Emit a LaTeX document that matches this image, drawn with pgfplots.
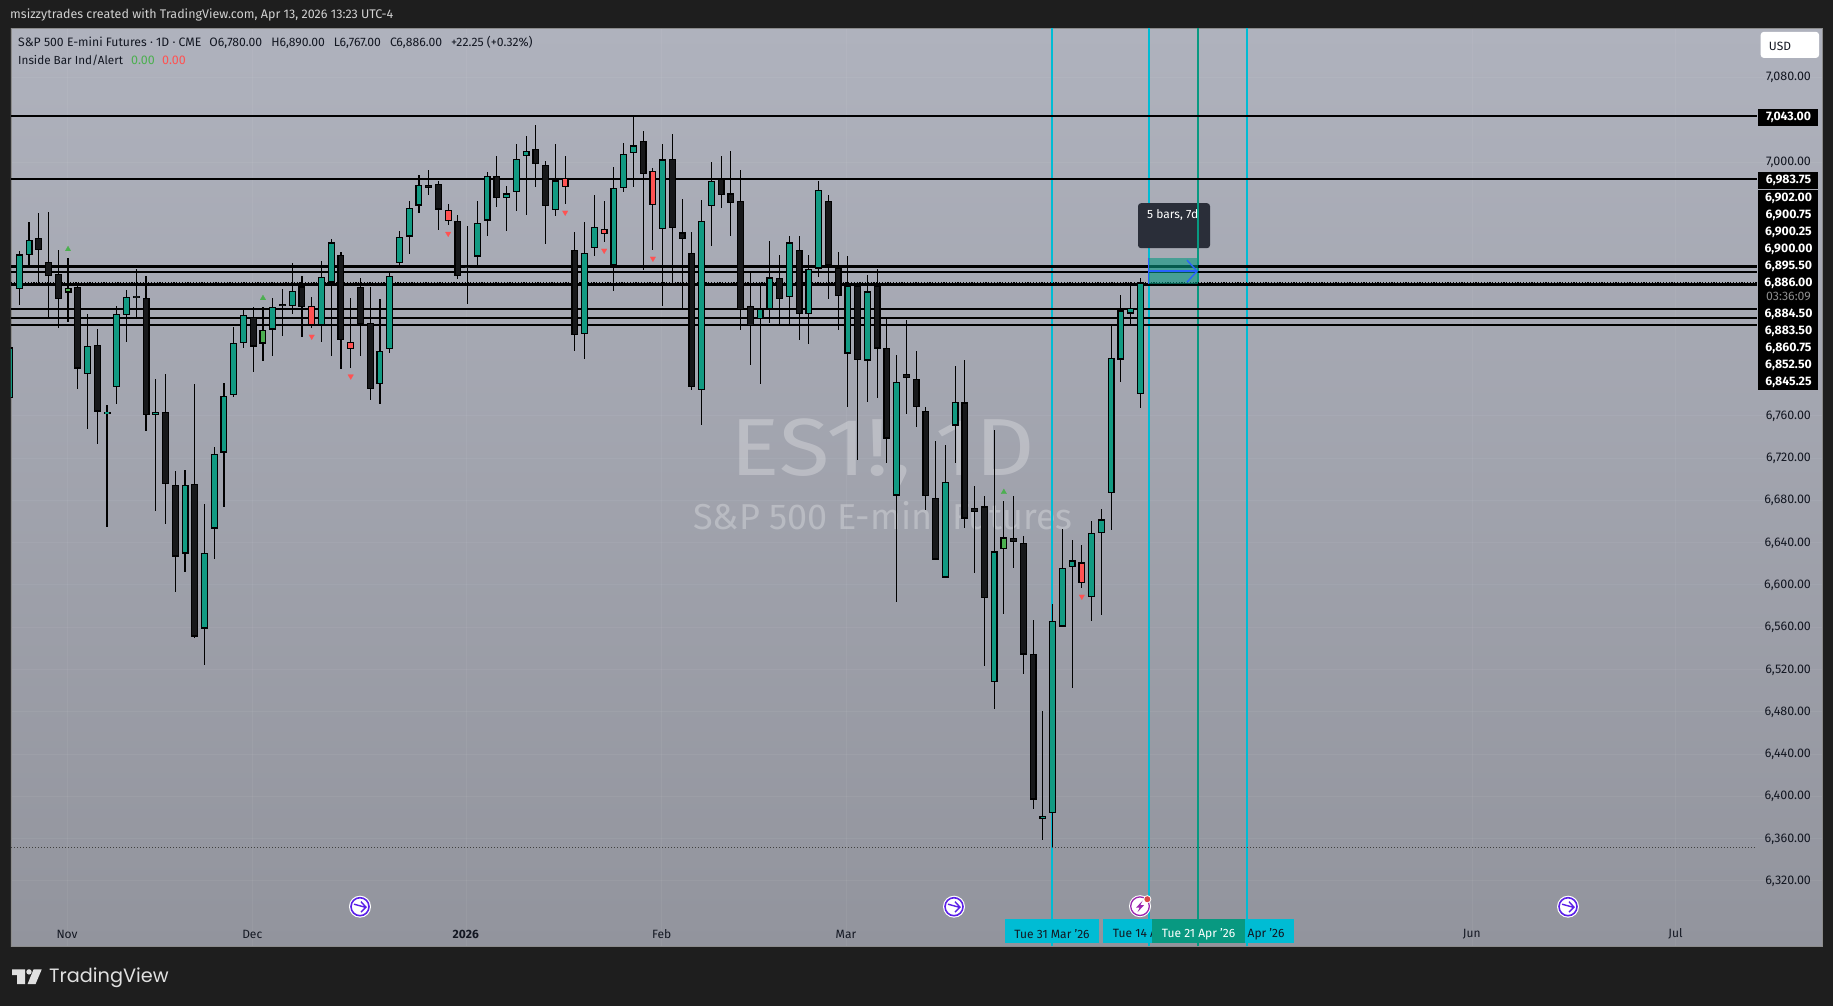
\documentclass[border=0pt]{standalone}
\usepackage{fontspec}
\setmainfont{Fira Sans}
\newfontfamily\logofont{Poppins}
\usepackage{pgfplots}
\usepackage{pgfplotstable}
\pgfplotsset{compat=1.18}

\definecolor{page}{HTML}{1E1E1E}
\definecolor{bgtop}{RGB}{175,178,189}
\definecolor{bgbot}{RGB}{146,148,157}
\definecolor{upc}{HTML}{129A82}
\definecolor{downc}{HTML}{17181A}
\definecolor{redc}{HTML}{FF5252}
\definecolor{greenc}{HTML}{4CAF50}
\definecolor{cyanl}{HTML}{00BCD4}
\definecolor{tealt}{HTML}{089981}
\definecolor{bluea}{HTML}{2962FF}
\definecolor{tipc}{HTML}{2A2E39}
\definecolor{inkc}{HTML}{131722}
\definecolor{purp}{HTML}{5B20E8}
\definecolor{purq}{HTML}{9C27B0}

% i high top bottom low, in points
\pgfplotstableread{
i h t b l
-1 6824.5 6824.5 6776.7 6776.7
0 6915.4 6912.5 6879.9 6864.7
1 6943.3 6926.3 6912.1 6901.6
7 6856.4 6826.0 6799.5 6747.4
9 6770.2 6763.7 6761.5 6654.8
10 6864.0 6856.4 6786.5 6771.0
11 6878.5 6872.3 6855.3 6829.6
14 6794.1 6763.7 6760.5 6670.0
17 6708.0 6694.6 6629.4 6612.0
19 6676.1 6630.1 6558.5 6524.0
20 6730.4 6723.9 6652.9 6624.3
21 6791.2 6778.9 6725.0 6673.6
22 6843.7 6828.9 6779.6 6777.5
23 6862.2 6855.3 6828.9 6824.2
26 6871.6 6862.9 6841.2 6816.6
28 6904.2 6878.1 6863.6 6856.0
31 6906.3 6891.1 6845.9 6829.6
32 6927.3 6923.7 6885.7 6816.6
37 6870.5 6821.3 6789.8 6771.0
38 6894.4 6892.2 6823.1 6819.1
39 6935.0 6929.2 6904.5 6901.6
40 6962.5 6956.7 6929.2 6912.5
41 6987.4 6978.4 6958.5 6951.2
47 6962.7 6942.5 6910.4 6901.2
48 6990.1 6987.0 6944.4 6929.6
50 6976.9 6970.0 6965.9 6934.3
51 7016.6 7003.1 6971.5 6953.2
52 7024.2 7010.6 7005.6 6949.5
55 7016.6 6982.3 6954.5 6948.5
58 6943.5 6914.2 6837.2 6813.6
59 6968.4 6938.7 6918.6 6910.7
61 6994.9 6975.6 6902.5 6877.6
62 7017.6 7007.8 6975.3 6971.2
63 7042.2 7015.4 7008.4 6976.0
66 7016.6 7002.1 6936.5 6863.4
70 6964.3 6944.4 6784.2 6750.8
71 6999.6 6982.3 6958.3 6920.1
76 6882.3 6861.2 6850.8 6789.6
77 6924.9 6890.5 6860.5 6847.3
79 6930.2 6923.6 6872.2 6846.4
81 6911.6 6899.0 6856.1 6827.4
82 6981.6 6973.7 6899.0 6890.8
85 6910.4 6882.6 6818.6 6768.2
87 6892.7 6877.3 6812.0 6772.9
90 6817.0 6792.1 6684.3 6583.7
95 6732.5 6697.2 6606.7 6606.0
96 6807.3 6772.9 6750.5 6715.2
100 6746.7 6631.4 6508.1 6482.6
105 6480.3 6381.3 6378.8 6358.6
106 6582.2 6566.1 6383.6 6351.7
107 6652.2 6615.9 6560.4 6560.4
108 6642.7 6622.9 6616.9 6502.4
110 6660.1 6649.3 6588.5 6565.5
111 6672.0 6661.6 6649.0 6571.5
112 6846.0 6814.5 6686.8 6651.8
113 6874.4 6859.3 6812.9 6791.8
114 6886.4 6861.8 6856.4 6844.5
115 6890.0 6886.0 6780.0 6767.0
}\upbars

\pgfplotstableread{
i h t b l
2 6951.2 6928.4 6916.8 6884.3
3 6952.3 6905.6 6892.2 6851.7
4 6916.8 6894.4 6870.5 6843.0
6 6883.5 6882.0 6804.3 6785.0
8 6842.3 6827.0 6763.7 6733.3
12 6898.7 6872.3 6872.3 6852.0
13 6891.5 6871.6 6760.5 6745.6
15 6799.5 6763.7 6695.3 6657.6
16 6707.2 6694.6 6626.5 6593.2
18 6790.1 6695.7 6550.9 6549.4
24 6862.9 6853.5 6825.3 6801.4
27 6879.6 6864.7 6864.7 6835.4
29 6892.2 6882.1 6862.9 6834.3
33 6914.3 6912.1 6831.4 6803.9
35 6890.4 6881.4 6846.6 6816.6
36 6881.7 6847.7 6785.0 6774.9
42 6992.7 6978.5 6975.3 6968.4
43 6981.6 6979.4 6954.8 6935.6
45 6950.1 6944.4 6892.1 6889.2
46 6939.0 6900.6 6900.0 6865.6
49 7005.9 6987.0 6965.9 6957.0
53 7035.2 7012.5 6998.0 6976.0
54 7001.2 6997.4 6958.3 6922.0
57 6934.0 6917.0 6836.3 6821.1
64 7028.9 7020.1 6988.6 6897.4
67 7026.1 7003.1 6937.5 6884.8
68 6964.6 6933.1 6927.1 6861.5
69 6934.0 6914.2 6786.8 6783.9
72 7005.3 6984.1 6968.7 6956.1
73 7010.6 6970.0 6961.1 6929.6
74 6991.7 6963.3 6859.9 6840.7
75 6896.5 6864.0 6844.8 6807.6
78 6911.6 6890.5 6870.3 6846.4
80 6929.6 6917.0 6856.1 6831.2
83 6969.0 6963.3 6902.5 6870.0
84 6914.5 6899.6 6873.2 6840.7
86 6884.5 6882.3 6812.6 6718.0
88 6899.0 6882.3 6823.3 6776.7
89 6853.0 6824.3 6738.2 6715.2
91 6850.5 6799.7 6795.6 6761.5
92 6821.4 6794.6 6768.2 6749.2
93 6768.5 6764.7 6683.4 6670.7
94 6736.3 6682.4 6623.8 6623.0
97 6813.0 6772.3 6662.5 6653.7
98 6693.8 6672.3 6669.2 6611.1
99 6684.3 6673.9 6586.9 6523.2
102 6683.7 6644.6 6639.9 6615.9
103 6645.9 6639.9 6533.9 6515.7
104 6567.0 6534.9 6396.8 6387.9
}\downbars

\pgfplotstableread{
i h t b l
30 6871.6 6864.0 6845.2 6843.0
34 6871.6 6830.0 6823.1 6805.0
44 6960.5 6954.8 6944.1 6940.0
56 7005.9 6985.1 6976.3 6960.2
60 6962.7 6936.9 6931.8 6923.9
65 6993.9 6991.7 6959.2 6916.4
109 6638.0 6621.0 6601.7 6597.0
}\redbars

\pgfplotstableread{
i h t b l
5 6908.9 6881.0 6876.3 6848.4
25 6862.2 6841.2 6828.1 6811.9
101 6679.0 6644.6 6633.3 6572.4
}\greenbars

\newcommand{\candles}[2]{%
  \addplot[draw=none,no markers,forget plot,error bars/.cd,y dir=both,y explicit,error mark=none,
    error bar style={draw=black,line width=1.1pt}]
    table[x=i,y expr={(\thisrow{h}+\thisrow{l})/2},y error expr={(\thisrow{h}-\thisrow{l})/2}] {#1};
  \addplot[draw=none,no markers,forget plot,error bars/.cd,y dir=both,y explicit,error mark=none,
    error bar style={draw=black,line width=7pt}]
    table[x=i,y expr={(\thisrow{t}+\thisrow{b})/2},y error expr={max((\thisrow{t}-\thisrow{b})/2,0.6)}] {#1};
  \addplot[draw=none,no markers,forget plot,error bars/.cd,y dir=both,y explicit,error mark=none,
    error bar style={draw=#2,line width=4.6pt}]
    table[x=i,y expr={(\thisrow{t}+\thisrow{b})/2},y error expr={max((\thisrow{t}-\thisrow{b})/2-1.15,0.3)}] {#1};
}
% solid level across the chart, up to the price scale
\newcommand{\level}[2]{\addplot[black,line width=#2,forget plot] coordinates {(-0.85,#1) (178.26,#1)};}
\newcommand{\pricechip}[2]{\node[text=white,font=\fontsize{12.3}{12.3}\selectfont\bfseries] at (1788.5,#1) {#2};}

\begin{document}
\begin{tikzpicture}[x=1pt,y=1pt]
\fill[page] (0,0) rectangle (1833,1006);
\begin{axis}[
  at={(11pt,59.8pt)},anchor=south west,
  width=1811pt,height=918pt,scale only axis,
  xmin=-0.85,xmax=184.93,ymin=6258,ymax=7126.3,
  axis background/.style={top color=bgtop,bottom color=bgbot},
  axis line style={draw=black!45,line width=.6pt},
  major tick length=0pt,
  clip=true,
  grid=major,grid style={white,opacity=.05},
  ytick={6320,6360,6400,6440,6480,6520,6560,6600,6640,6680,6720,6760,7000,7080},
  yticklabel pos=right,
  yticklabel style={anchor=east,xshift=-7.5pt,yshift=-.6pt,font=\fontsize{12.5}{12.5}\selectfont,text=inkc,
    /pgf/number format/.cd,fixed,fixed zerofill,precision=2,1000 sep={,},assume math mode=true},
  xtick={4.9,23.9,45.8,65.9,84.8,149,169.9},
  xticklabels={Nov,Dec,\textbf{2026},Feb,Mar,Jun,Jul},
  xticklabel style={anchor=center,yshift=12pt,font=\fontsize{12}{12}\selectfont,text=inkc},
]
% watermark
\node[text=white,text opacity=.27,font=\fontsize{81}{81}\selectfont] at (axis cs:88.6,6724) {\scalebox{1.14}[1]{ES1!, 1D}};
\node[text=white,text opacity=.27,font=\fontsize{36}{36}\selectfont] at (axis cs:88.6,6665) {S\&P 500 E-mini Futures};

% date lines
\addplot[cyanl,line width=2pt,forget plot] coordinates {(105.93,6258) (105.93,7126.3)};
\addplot[cyanl,line width=2pt,forget plot] coordinates {(115.93,6258) (115.93,7126.3)};
\addplot[cyanl,line width=2pt,forget plot] coordinates {(125.93,6258) (125.93,7126.3)};
\addplot[tealt,line width=2pt,forget plot] coordinates {(120.93,6258) (120.93,7126.3)};

% drawn levels
\level{7043}{2pt}
\level{6983.75}{2pt}
\level{6902}{1.6pt}
\level{6900.75}{1.6pt}
\level{6900.25}{1.6pt}
\level{6900}{1.6pt}
\level{6895.5}{2pt}
\level{6884.5}{1.6pt}
\level{6883.5}{1.6pt}
\level{6860.75}{2pt}
\level{6852.5}{2pt}
\level{6845.25}{2pt}
\addplot[black,line width=1.2pt,dash pattern=on 1.2pt off 1.6pt,forget plot] coordinates {(-0.85,6886) (178.26,6886)};
\addplot[black!75,line width=.8pt,dash pattern=on 1pt off 2pt,forget plot] coordinates {(-0.85,6351.4) (178.26,6351.4)};

\candles{\upbars}{upc}
\candles{\downbars}{downc}
\candles{\redbars}{redc}
\candles{\greenbars}{greenc}

% inside bar markers
\addplot[only marks,mark=triangle*,mark size=3.2pt,mark options={draw=greenc,fill=greenc,line width=.2pt},forget plot]
  coordinates {(5,6917.2) (25,6870.9) (101,6687.5)};
\addplot[only marks,mark=triangle*,mark size=3.2pt,mark options={draw=redc,fill=redc,line width=.2pt,rotate=180},forget plot]
  coordinates {(30,6834.7) (34,6797) (44,6932) (56,6952) (60,6916) (65,6908.5) (109,6588.8)};
\end{axis}

% everything below is in image pixels, y downwards
\begin{scope}[shift={(0,1004.8)},y=-1pt]
% header and legend
\node[anchor=west,inner sep=0,text=white!82!black,font=\fontsize{12.5}{12.5}\selectfont] at (10,14) {msizzytrades created with TradingView.com, Apr 13, 2026 13:23 UTC-4};
\node[anchor=west,inner sep=0,text=inkc,font=\fontsize{12.2}{12.2}\selectfont] at (18,41) {S\&P 500 E-mini Futures · 1D · CME\hspace{8pt}O6,780.00\hspace{9pt}H6,890.00\hspace{9pt}L6,767.00\hspace{9pt}C6,886.00\hspace{9pt}+22.25 (+0.32\%)};
\node[anchor=west,inner sep=0,text=inkc,font=\fontsize{11.7}{11.7}\selectfont] at (18,59) {Inside Bar Ind/Alert};
\node[anchor=west,inner sep=0,text=greenc,font=\fontsize{12.5}{12.5}\selectfont] at (131,59) {0.00};
\node[anchor=west,inner sep=0,text=redc,font=\fontsize{12.5}{12.5}\selectfont] at (162,59) {0.00};

% long position and its tooltip
\fill[tealt,fill opacity=.6] (1148.2,257) rectangle (1198,283);
\draw[bluea,line width=1.4pt] (1148.2,257) -- (1148.2,283);
\draw[bluea,line width=1.4pt] (1148.2,270) -- (1197,270);
\draw[bluea,line width=1.4pt] (1187,259) -- (1197,270) -- (1187,281);
\fill[tipc,rounded corners=3pt] (1138,202) rectangle (1210,247);
\node[anchor=west,inner sep=0,text=white,font=\fontsize{12}{12}\selectfont] at (1147,214) {5 bars, 7d};
\draw[tealt,line width=2pt] (1198,202) -- (1198,247);

% price scale
\fill[white,rounded corners=3pt] (1760.7,30.7) rectangle (1819,56.7);
\node[text=inkc,font=\fontsize{12}{12}\selectfont] at (1780,44.7) {USD};
\fill[black] (1758,108) rectangle (1817.7,125);
\fill[black] (1758,170.5) rectangle (1817.7,187.5);
\fill[black] (1758,189) rectangle (1817.7,389);
\pricechip{115.7}{7,043.00}
\pricechip{179}{6,983.75}
\pricechip{196.7}{6,902.00}
\pricechip{213.7}{6,900.75}
\pricechip{230.7}{6,900.25}
\pricechip{247.7}{6,900.00}
\pricechip{264.7}{6,895.50}
\pricechip{281.7}{6,886.00}
\node[text=black!45!white,font=\fontsize{12.3}{12.3}\selectfont] at (1788.5,295.7) {03:36:09};
\pricechip{312.7}{6,884.50}
\pricechip{329.7}{6,883.50}
\pricechip{347}{6,860.75}
\pricechip{363.7}{6,852.50}
\pricechip{380.7}{6,845.25}

% date tags
\fill[cyanl] (1005,917.7) rectangle (1099,941.7);
\fill[cyanl] (1103,917.7) rectangle (1197,941.7);
\fill[cyanl] (1200,917.7) rectangle (1294,941.7);
\node[text=inkc,font=\fontsize{12}{12}\selectfont] at (1052,932.7) {Tue 31 Mar '26};
\node[text=inkc,font=\fontsize{12}{12}\selectfont] at (1150,932.7) {Tue 14 Apr '26};
\node[text=inkc,font=\fontsize{12}{12}\selectfont] at (1247,932.7) {Tue 28 Apr '26};
\fill[tealt] (1152,917.7) rectangle (1245,941.7);
\node[text=white,font=\fontsize{12}{12}\selectfont] at (1198.5,932.7) {Tue 21 Apr '26};

% event icons
\foreach \ix in {360,954,1568}{
  \fill[white] (\ix,905.5) circle (11);
  \draw[purp,line width=1.6pt] (\ix,905.5) circle (9);
  \draw[purp,line width=1.4pt] (\ix-6,903) -- (\ix+5,906) (\ix+1,900.5) -- (\ix+6,906) -- (\ix+1,911);
}
\fill[white] (1140,905) circle (11);
\draw[purq,line width=1.3pt] (1140,905) circle (9.3);
\fill[purq] (1142.5,899.5) -- (1136,906.5) -- (1139.6,906.5) -- (1137.5,911) -- (1144,904) -- (1140.4,904) -- cycle;
\fill[white] (1147.3,898) circle (4);
\fill[redc!85!black] (1147.3,898) circle (3);

% logo
\fill[white!88!black] (12,968.3) -- (25,968.3) -- (25,983) -- (17,983) -- (17,974) -- (12,974) -- cycle;
\fill[white!88!black] (29,970.7) circle (2.7);
\fill[white!88!black] (33.5,968.3) -- (41.7,968.3) -- (35.5,983) -- (27.5,983) -- cycle;
\node[anchor=west,inner sep=0,text=white!88!black,font=\logofont\fontsize{19.3}{19.3}\selectfont] at (49,976.5) {TradingView};
\end{scope}
\path[use as bounding box] (0,0) rectangle (1833,1006);
\end{tikzpicture}
\end{document}
